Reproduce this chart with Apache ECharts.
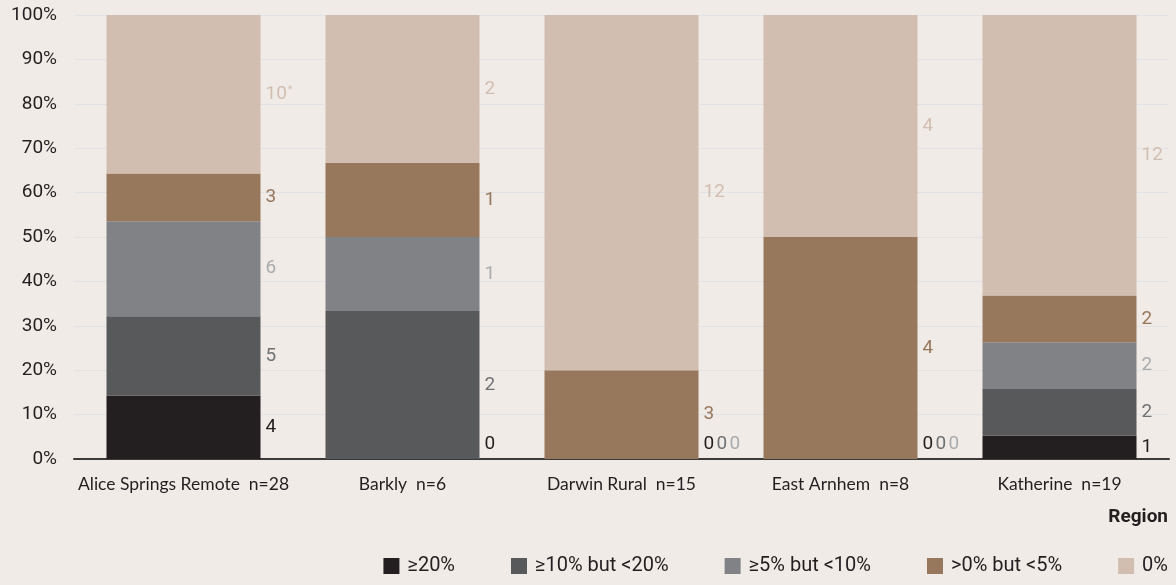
<!DOCTYPE html>
<html>
<head>
<meta charset="utf-8">
<script src="https://cdn.jsdelivr.net/npm/echarts@6/dist/echarts.min.js"></script>
<style>
  html, body { margin: 0; padding: 0; background: #f0ebe7; }
  #chart { width: 1176px; height: 585px; }
</style>
</head>
<body>
<div id="chart"></div>
<script>
// Regions and sample sizes
const regions = ['Alice Springs Remote', 'Barkly', 'Darwin Rural', 'East Arnhem', 'Katherine'];
const sampleSizes = [28, 6, 15, 8, 19];

// Counts of services per band, one array per band
const bandNames = ['≥20%', '≥10% but <20%', '≥5% but <10%', '>0% but <5%', '0%'];
const countsGe20 = [4, 0, 0, 0, 1];
const countsGe10 = [5, 2, 0, 0, 2];
const countsGe5 = [6, 1, 0, 0, 2];
const countsGt0 = [3, 1, 3, 4, 2];
const countsZero = [10, 2, 12, 4, 12];

// Footnote marker shown beside a count
const footnotes = [['0%', 0]]; // band name, region index

const yTicks = [0, 10, 20, 30, 40, 50, 60, 70, 80, 90, 100];

const barColors = ['#231f20', '#58595b', '#808285', '#98785c', '#d2beb0'];
const labelColors = ['#231f20', '#707173', '#a9abae', '#98785c', '#d2beb0'];

const allCounts = [countsGe20, countsGe10, countsGe5, countsGt0, countsZero];
const categoryLabels = regions.map((r, i) => r + '  n=' + sampleSizes[i]);

const series = bandNames.map((name, s) => ({
  name: name,
  type: 'bar',
  stack: 'total',
  barWidth: 154,
  itemStyle: { color: barColors[s] },
  emphasis: { disabled: true },
  data: allCounts[s].map((c, i) => {
    const starred = footnotes.some(f => f[0] === name && f[1] === i);
    const item = {
      value: c / sampleSizes[i] * 100,
      count: c,
      label: {
        show: true,
        position: 'right',
        distance: 5,
        color: labelColors[s],
        fontFamily: 'Roboto',
        fontSize: 19,
        formatter: starred ? '{n|' + c + '}{s|*}' : String(c),
        rich: {
          n: { color: labelColors[s], fontFamily: 'Roboto', fontSize: 19 },
          s: { color: labelColors[s], fontFamily: 'Roboto', fontSize: 11, verticalAlign: 'top', padding: [0, 0, 9, 1] }
        }
      }
    };
    // empty bands sit side by side just above the baseline
    if (c === 0) item.label.offset = [s * 13, -15];
    return item;
  })
}));

const chart = echarts.init(document.getElementById('chart'), null, { renderer: 'canvas' });
chart.setOption({
  backgroundColor: '#f0ebe7',
  animation: false,
  title: {
    text: 'Region',
    right: 3,
    top: 503,
    textStyle: { fontFamily: 'Roboto', fontWeight: 'bold', fontSize: 19, color: '#231f20' }
  },
  legend: {
    data: bandNames,
    right: 3,
    bottom: 4,
    itemWidth: 16,
    itemHeight: 16,
    itemGap: 56,
    icon: 'rect',
    textStyle: { fontFamily: 'Roboto', fontSize: 20, color: '#231f20', padding: [0, 0, 0, 3] }
  },
  grid: { left: 74, right: 7, top: 15, bottom: 126, containLabel: false },
  xAxis: {
    type: 'category',
    data: categoryLabels,
    axisLine: { lineStyle: { color: '#3a3a3a', width: 2 } },
    axisTick: { show: false },
    axisLabel: { margin: 16, fontFamily: 'Lato', fontSize: 17.5, color: '#231f20', interval: 0 }
  },
  yAxis: {
    type: 'value',
    min: yTicks[0],
    max: yTicks[yTicks.length - 1],
    interval: yTicks[1] - yTicks[0],
    axisLine: { show: false },
    axisTick: { show: false },
    splitLine: { lineStyle: { color: '#e2e3e6', width: 1 } },
    axisLabel: { margin: 17, fontFamily: 'Roboto', fontSize: 19, color: '#231f20', padding: [6, 0, 0, 0], formatter: v => v + '%' }
  },
  series: series
});
</script>
</body>
</html>
